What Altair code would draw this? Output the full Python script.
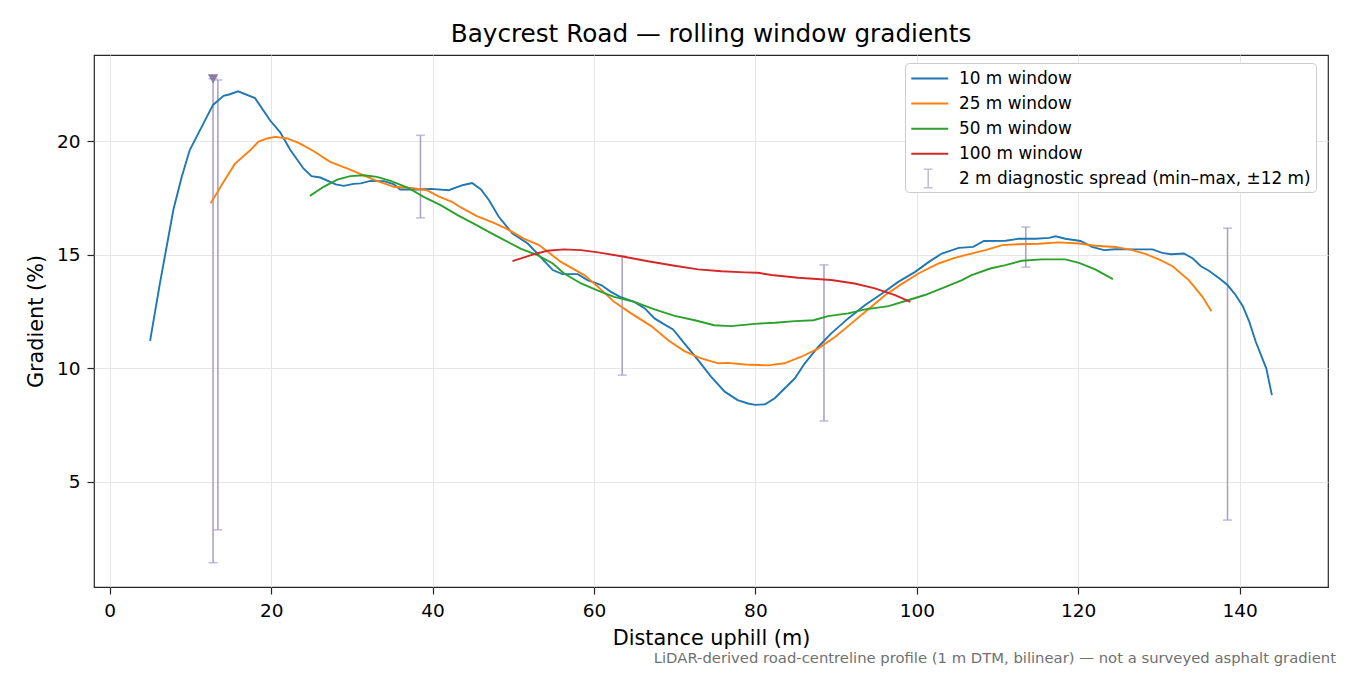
import altair as alt
import pandas as pd

FONT = "DejaVu Sans"

# 10 m rolling window
x10 = [5.0, 6.2, 7.9, 8.9, 9.9, 11.2, 12.8, 14.1, 14.9, 15.9,
       18.0, 19.9, 21.1, 22.4, 24.0, 25.0, 26.1, 28.0, 29.0, 30.2,
       31.1, 32.3, 34.0, 35.2, 36.0, 38.1, 39.8, 42.0, 43.7, 44.9,
       46.0, 47.0, 48.2, 49.9, 51.8, 53.5, 54.9, 56.1, 58.0, 59.2,
       60.9, 62.1, 63.4, 65.0, 66.3, 67.5, 68.5, 69.8, 71.2, 72.9,
       74.5, 76.2, 77.8, 79.1, 80.0, 81.2, 82.4, 84.9, 86.1, 87.8,
       89.4, 91.5, 93.6, 95.7, 97.7, 99.8, 101.5, 103.1, 105.2, 107.0,
       108.3, 111.0, 112.6, 114.7, 116.4, 117.2, 118.4, 120.3, 121.7, 123.2,
       124.6, 126.7, 129.2, 130.4, 131.5, 133.1, 134.2, 135.2, 136.2, 137.5,
       138.5, 139.5, 140.4, 141.2, 142.0, 143.3, 144.0]
y10 = [11.2, 13.7, 17.0, 18.4, 19.6, 20.5, 21.6, 22.0, 22.07, 22.2,
       21.9, 20.9, 20.4, 19.6, 18.8, 18.46, 18.4, 18.1, 18.03, 18.12,
       18.14, 18.25, 18.24, 18.1, 17.87, 17.87, 17.9, 17.84, 18.06, 18.16,
       17.87, 17.4, 16.67, 15.93, 15.49, 14.85, 14.32, 14.14, 14.14, 13.88,
       13.66, 13.36, 13.11, 12.92, 12.63, 12.19, 11.97, 11.7, 11.09, 10.35,
       9.62, 8.96, 8.59, 8.44, 8.38, 8.40, 8.67, 9.55, 10.2, 10.94,
       11.53, 12.19, 12.78, 13.29, 13.8, 14.24, 14.68, 15.05, 15.3, 15.34,
       15.6, 15.61, 15.7, 15.7, 15.74, 15.81, 15.7, 15.6, 15.34, 15.2,
       15.24, 15.23, 15.23, 15.08, 15.02, 15.05, 14.83, 14.49, 14.29, 13.95,
       13.66, 13.22, 12.73, 12.04, 11.16, 9.99, 8.81]

# 25 m rolling window
x25 = [12.5, 14.1, 15.5, 17.4, 18.4, 19.5, 20.5, 22.0, 23.4, 25.3,
       27.3, 29.4, 31.1, 33.1, 35.2, 37.3, 39.3, 40.6, 42.4, 43.5,
       45.5, 47.6, 49.5, 51.3, 53.2, 55.9, 58.8, 60.5, 62.5, 64.6,
       67.1, 69.2, 71.2, 73.3, 75.4, 76.6, 78.7, 81.6, 83.6, 85.7,
       87.8, 89.9, 91.9, 94.0, 96.1, 98.1, 100.2, 102.7, 104.6, 106.0,
       108.5, 110.6, 112.6, 115.1, 117.6, 120.1, 122.1, 124.6, 126.7, 128.4,
       130.0, 131.7, 133.7, 135.4, 136.5]
y25 = [17.26, 18.2, 19.0, 19.6, 19.97, 20.12, 20.19, 20.12, 19.93, 19.56,
       19.09, 18.8, 18.55, 18.25, 17.99, 17.94, 17.84, 17.59, 17.33, 17.08,
       16.7, 16.4, 16.08, 15.71, 15.42, 14.68, 14.1, 13.58, 12.92, 12.41,
       11.85, 11.23, 10.75, 10.43, 10.21, 10.23, 10.16, 10.12, 10.21, 10.5,
       10.87, 11.38, 11.97, 12.59, 13.22, 13.7, 14.17, 14.61, 14.85, 14.98,
       15.2, 15.42, 15.46, 15.48, 15.54, 15.49, 15.39, 15.34, 15.2, 15.02,
       14.79, 14.49, 13.88, 13.14, 12.5]

# 50 m rolling window
x50 = [24.8, 26.5, 28.2, 29.8, 31.5, 33.1, 34.8, 36.9, 38.9, 41.0,
       43.1, 45.1, 47.2, 48.9, 50.9, 53.0, 54.9, 56.3, 58.4, 60.5,
       62.5, 65.0, 67.5, 70.0, 72.5, 74.9, 77.0, 79.9, 82.4, 84.9,
       87.2, 89.0, 91.5, 93.6, 96.5, 99.0, 101.0, 103.1, 105.6, 106.8,
       109.1, 111.0, 113.0, 115.5, 118.4, 120.1, 122.1, 124.3]
y50 = [17.59, 17.99, 18.31, 18.46, 18.5, 18.43, 18.25, 17.96, 17.55, 17.18,
       16.74, 16.37, 15.96, 15.64, 15.27, 14.98, 14.61, 14.17, 13.73, 13.41,
       13.14, 12.92, 12.59, 12.3, 12.11, 11.89, 11.85, 11.95, 12.0, 12.07,
       12.11, 12.29, 12.41, 12.59, 12.73, 13.0, 13.22, 13.51, 13.88, 14.1,
       14.39, 14.54, 14.73, 14.79, 14.79, 14.64, 14.35, 13.92]

# 100 m rolling window
x100 = [49.9, 52.2, 54.2, 56.3, 58.4, 60.5, 63.4, 66.7, 70.0, 72.9,
        75.8, 78.7, 80.3, 82.0, 85.3, 89.4, 92.3, 94.8, 97.3, 99.2]
y100 = [14.71, 14.98, 15.17, 15.23, 15.2, 15.1, 14.93, 14.71, 14.51, 14.35,
        14.27, 14.22, 14.2, 14.1, 13.98, 13.88, 13.73, 13.51, 13.22, 12.92]

# 2 m diagnostic spread (min-max within +-12 m)
err_x = [12.8, 13.4, 38.5, 63.5, 88.5, 113.5, 138.5]
err_lo = [1.42, 2.87, 16.62, 9.69, 7.67, 14.45, 3.30]
err_hi = [22.75, 22.7, 20.26, 14.93, 14.55, 16.22, 16.17]

# clipped-spread marker
tri_x = [12.8]
tri_y = [22.75]

labels = ["10 m window", "25 m window", "50 m window", "100 m window",
          "2 m diagnostic spread (min\u2013max, \u00b112 m)"]
line_colors = ["#1f77b4", "#ff7f0e", "#2ca02c", "#d62728", "#ffffff"]
err_color = "#ada2c8"

title = "Baycrest Road \u2014 rolling window gradients"
caption = ("LiDAR-derived road-centreline profile (1 m DTM, bilinear) "
           "\u2014 not a surveyed asphalt gradient")

frames = []
for lab, xs, ys in zip(labels[:4], [x10, x25, x50, x100], [y10, y25, y50, y100]):
    frames.append(pd.DataFrame({"dist": xs, "grad": ys, "series": lab, "order": range(len(xs))}))
lines_df = pd.concat(frames, ignore_index=True)
err_df = pd.DataFrame({"dist": err_x, "lo": err_lo, "hi": err_hi, "kind": labels[4]})
tri_df = pd.DataFrame({"dist": tri_x, "grad": tri_y})
cap_df = pd.DataFrame({"t": [caption]})

xscale = alt.Scale(domain=[-1.95, 150.95], nice=False, zero=False)
yscale = alt.Scale(domain=[0.35, 23.8], nice=False, zero=False)
xaxis = alt.Axis(title="Distance uphill (m)", values=[0, 20, 40, 60, 80, 100, 120, 140],
                 titlePadding=9)
yaxis = alt.Axis(title="Gradient (%)", values=[5, 10, 15, 20], titlePadding=10)

# main legend: four line entries plus the label row of the error bar entry
line_legend = alt.Legend(
    title=None, orient="none", legendX=811, legendY=8, zindex=1,
    symbolType="M-1,0L3,0", symbolSize=342, symbolStrokeWidth=2,
    labelFont=FONT, labelFontSize=16.9, labelColor="black", labelLimit=600,
    labelOffset=28, padding=5, rowPadding=6.1,
    strokeColor="#cccccc", fillColor="white", cornerRadius=4,
)
# second legend only draws the error bar glyph on the fifth row
err_legend = alt.Legend(
    title=None, orient="none", legendX=823.7, legendY=113, zindex=2,
    symbolType="M0,-1L0,1M-0.47,-1L0.47,-1M-0.47,1L0.47,1",
    symbolSize=346, symbolStrokeWidth=1.6, padding=0,
    labelOpacity=0, labelFontSize=1, labelLimit=1,
)

errbars = alt.Chart(err_df).mark_errorbar(ticks={"size": 9}, thickness=1.6).encode(
    x=alt.X("dist:Q", scale=xscale, axis=xaxis),
    y=alt.Y("lo:Q", scale=yscale, axis=yaxis),
    y2="hi:Q",
    color=alt.Color("kind:N", scale=alt.Scale(domain=[labels[4]], range=[err_color]),
                    legend=err_legend),
)

lines = alt.Chart(lines_df).mark_line(strokeWidth=1.9).encode(
    x=alt.X("dist:Q", scale=xscale, axis=xaxis),
    y=alt.Y("grad:Q", scale=yscale, axis=yaxis),
    color=alt.Color("series:N", scale=alt.Scale(domain=labels, range=line_colors),
                    legend=line_legend),
    order="order:Q",
)

marker = alt.Chart(tri_df).mark_point(shape="triangle-down", filled=True, size=110,
                                      color="#8a7aa8", opacity=1).encode(
    x=alt.X("dist:Q", scale=xscale),
    y=alt.Y("grad:Q", scale=yscale),
)

note = alt.Chart(cap_df).mark_text(align="right", baseline="alphabetic", font=FONT,
                                   fontSize=14.8, color="#707070").encode(
    x=alt.value(1242), y=alt.value(607.5), text="t:N")

chart = alt.layer(errbars, lines, marker, note).resolve_scale(
    color="independent"
).resolve_legend(
    color="independent"
).properties(
    width=1234, height=532,
    autosize=alt.AutoSizeParams(type="none"),
    padding={"left": 86, "top": 47, "right": 14, "bottom": 80},
    title=alt.TitleParams(title, font=FONT, fontSize=24.7, fontWeight="normal",
                          color="black", anchor="middle", offset=8),
).configure_view(
    stroke="#262626", strokeWidth=1.2
).configure_axis(
    labelFont=FONT, labelFontSize=18.5, labelColor="black", labelPadding=7,
    titleFont=FONT, titleFontSize=20.8, titleFontWeight="normal", titleColor="black",
    domain=False, tickSize=7, tickColor="#262626", tickWidth=1.2,
    grid=True, gridColor="#e6e6e6", gridWidth=1,
)

chart.save("out.html", embed_options={"renderer": "svg", "actions": False})
